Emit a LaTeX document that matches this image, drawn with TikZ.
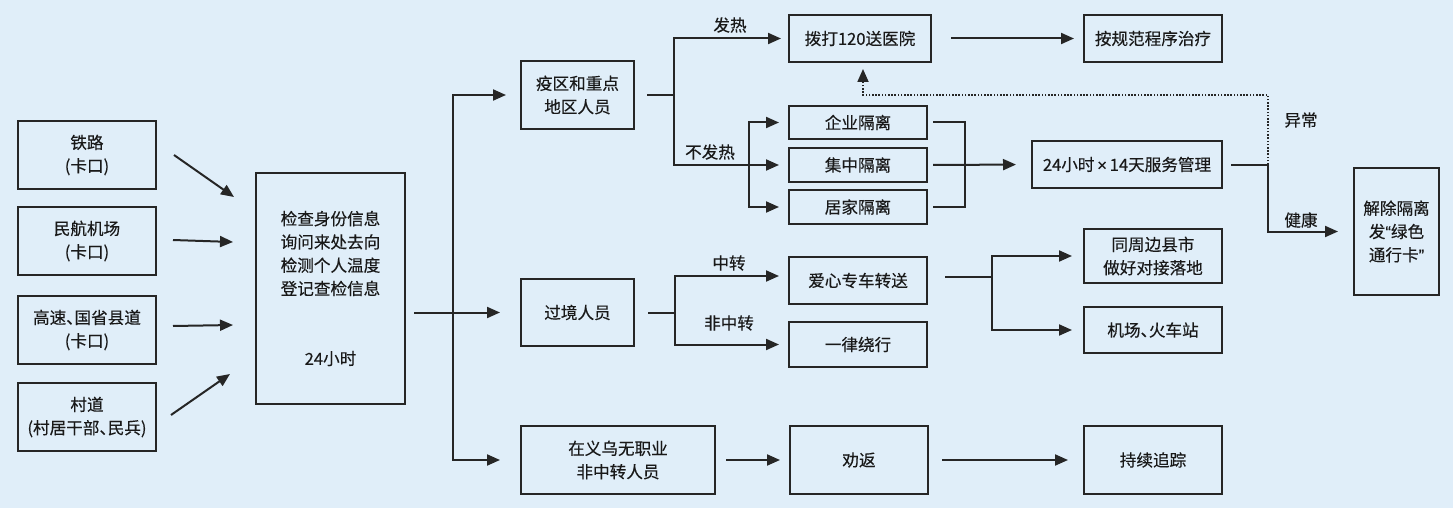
\documentclass[tikz,border=0pt]{standalone}
\usepackage{fontspec}
\setmainfont{Noto Sans CJK SC}[FakeBold=0.3]
\newfontfamily\cjkhalt{Noto Sans CJK SC}[RawFeature=+halt,FakeBold=0.3]
\newfontfamily\latinf{Liberation Sans}[FakeBold=0.3]
\newcommand{\dun}{{\cjkhalt 、}}
\usetikzlibrary{arrows.meta,calc}
\definecolor{bg}{RGB}{224,238,249}
\definecolor{ln}{RGB}{38,38,38}
\definecolor{txt}{RGB}{25,25,25}
\begin{document}
\begin{tikzpicture}[x=1pt,y=-1pt,
  box/.style={draw=ln, line width=2pt, align=center, inner sep=2pt, text=txt,
    font=\fontsize{16.6}{23.3}\selectfont},
  lbl/.style={inner sep=0pt, text=txt, font=\fontsize{16.6}{23.3}\selectfont},
  line/.style={draw=ln, line width=2pt},
  arr/.style={draw=ln, line width=2pt, -{Triangle[length=13pt 0,width=11pt 0]}},
  dotarr/.style={draw=ln, line width=1.8pt, dash pattern=on 1.6pt off 1.6pt,
    -{Triangle[length=13pt 0,width=11pt 0]}}]
\fill[bg] (0,0) rectangle (1453,508);
\useasboundingbox (0,0) rectangle (1453,508);

% left column
\node[box, minimum width=138pt, minimum height=68pt] (rail) at (87,155) {铁路\\(卡口)};
\node[box, minimum width=138pt, minimum height=68pt] (air) at (87,241) {民航机场\\(卡口)};
\node[box, minimum width=138pt, minimum height=68pt] (hwy) at (87,330) {高速\dun 国省县道\\(卡口)};
\node[box, minimum width=138pt, minimum height=68pt] (vil) at (87,417) {村道\\(村居干部\dun 民兵)};

% check box
\node[box, minimum width=149pt, minimum height=231pt] (check) at (330.5,288.5)
  {检查身份信息\\询问来处去向\\检测个人温度\\登记查检信息\\[46.7pt]24小时};

% second column
\node[box, minimum width=113pt, minimum height=68pt] (epi) at (577.5,95) {疫区和重点\\地区人员};
\node[box, minimum width=113pt, minimum height=67pt] (transit) at (577.5,312.5) {过境人员};
\node[box, minimum width=194pt, minimum height=68pt] (yiwu) at (618,460) {在义乌无职业\\非中转人员};

% third column
\node[box, minimum width=142pt, minimum height=47pt] (hosp) at (860,38.5) {拨打120送医院};
\node[box, minimum width=138pt, minimum height=33pt] (qy) at (858,122.5) {企业隔离};
\node[box, minimum width=138pt, minimum height=34pt] (jz) at (858,165) {集中隔离};
\node[box, minimum width=138pt, minimum height=34pt] (jj) at (858,207) {居家隔离};
\node[box, minimum width=138pt, minimum height=47pt] (care) at (858,280.5) {爱心专车转送};
\node[box, minimum width=138pt, minimum height=45pt] (detour) at (858,344.5) {一律绕行};
\node[box, minimum width=138pt, minimum height=68pt] (persuade) at (859,460) {劝返};

% fourth column
\node[box, minimum width=138pt, minimum height=47pt] (treat) at (1153,38.5) {按规范程序治疗};
\node[box, minimum width=190pt, minimum height=47pt] (manage) at (1127,164.5) {24小时{\latinf\,×\,}14天服务管理};
\node[box, minimum width=138pt, minimum height=54pt] (dock) at (1153,256) {同周边县市\\做好对接落地};
\node[box, minimum width=138pt, minimum height=46pt] (station) at (1153,330) {机场\dun 火车站};
\node[box, minimum width=138pt, minimum height=68pt] (track) at (1153,460) {持续追踪};
\node[box, minimum width=85pt, minimum height=127pt] (release) at (1396.5,231.5) {解除隔离\\发{\latinf “}绿色\\通行卡{\latinf ”}};

% inputs to check
\draw[arr] ($(rail.east)+(17,0)$) -- ($(check.west)+(-21,-91.5)$);
\draw[arr] ($(air.east)+(16,-1)$) -- ($(check.west)+(-22,-46.5)$);
\draw[arr] ($(hwy.east)+(16,-4)$) -- ($(check.west)+(-22,36.5)$);
\draw[arr] ($(vil.east)+(14,-2)$) -- ($(check.west)+(-25,85.5)$);

% check to branches
\coordinate (bx) at ($(check.east|-transit.west)+(47,0)$);
\draw[arr, shorten >=20pt] ($(check.east|-transit.west)+(8,0)$) -- (transit.west);
\draw[arr, shorten >=14pt] (bx) |- (epi.west);
\draw[arr, shorten >=20pt] (bx) |- (yiwu.west);

% epidemic branch
\coordinate (j1) at ($(epi.east)+(39,0)$);
\draw[line] ($(epi.east)+(12,0)$) -- (j1);
\draw[arr, shorten >=7pt] (j1) |- (hosp.west);
\draw[arr, shorten >=9pt] (j1) |- (jz.west);
\coordinate (j2) at ($(jz.west)+(-39,0)$);
\draw[arr, shorten >=9pt] (j2) |- (qy.west);
\draw[arr, shorten >=9pt] (j2) |- (jj.west);
\node[lbl] (lfever) at (730,25) {发热};
\node[lbl] (lnofever) at (710,152) {不发热};

% hospital to treatment
\draw[arr, shorten <=19pt, shorten >=9pt] (hosp.east) -- (treat.west);

% isolation to management
\coordinate (j3) at ($(jz.east)+(37,0)$);
\draw[line] ($(qy.east)+(5,0)$) -| (j3) |- ($(jj.east)+(5,0)$);
\draw[arr, shorten <=5pt, shorten >=15pt] (jz.east) -- (manage.west);

% management outcomes
\coordinate (j4) at ($(manage.east)+(45,0)$);
\draw[line] ($(manage.east)+(8,0)$) -- (j4);
\draw[arr, shorten >=15pt] (j4) |- (release.west);
\draw[dotarr, shorten >=6pt] (j4) -- ($(j4)+(0,-69.5)$) -| ($(hosp.south)+(3,0)$);
\node[lbl] (labn) at (1301,120) {异常};
\node[lbl] (lhealth) at (1301,220) {健康};

% transit branch
\coordinate (j5) at ($(transit.east)+(40,0)$);
\draw[line] ($(transit.east)+(13,0)$) -- (j5);
\draw[arr, shorten >=9pt] (j5) |- ($(care.west)+(0,-4.5)$);
\draw[arr, shorten >=9pt] (j5) |- (detour.west);
\node[lbl] (lzz) at (729,263) {中转};
\node[lbl] (lfzz) at (729,323) {非中转};

% care branch
\coordinate (j6) at ($(care.east)+(64,-3.5)$);
\draw[line] ($(care.east)+(17,-3.5)$) -- (j6);
\draw[arr, shorten >=11pt] (j6) |- (dock.west);
\draw[arr, shorten >=11pt] (j6) |- (station.west);

% bottom row
\draw[arr, shorten <=10pt, shorten >=9pt] (yiwu.east) -- (persuade.west);
\draw[arr, shorten <=13pt, shorten >=15pt] (persuade.east) -- (track.west);
\end{tikzpicture}
\end{document}
